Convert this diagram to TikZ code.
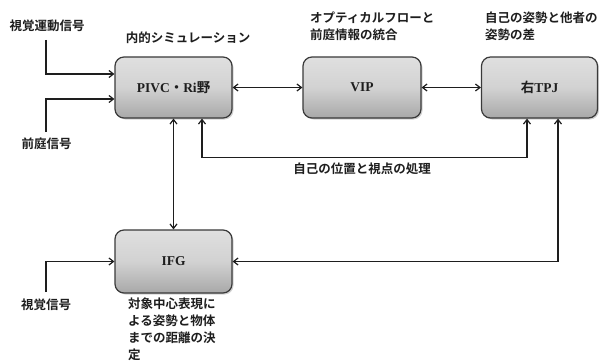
\documentclass[tikz,border=0pt]{standalone}
\usepackage{fontspec}
\usetikzlibrary{arrows.meta,shadows,calc}
\newfontfamily\jpb{Noto Sans CJK JP Bold}
\newfontfamily\serb{Liberation Serif Bold}
\definecolor{boxfill}{HTML}{D2D2D2}
\definecolor{boxline}{HTML}{3A3A3A}
\definecolor{ink}{HTML}{1E1E1E}
\begin{document}
\begin{tikzpicture}[x=1pt,y=-1pt,
  blk/.style={draw=boxline,line width=1.2pt,rounded corners=9pt,
    top color=boxfill!70!white,bottom color=boxfill!80!black,middle color=boxfill,
    drop shadow={shadow xshift=1.5pt,shadow yshift=-1.5pt,opacity=0.35},
    minimum width=117pt,minimum height=61pt,inner sep=0pt,
    font=\serb\fontsize{13.5}{15}\selectfont,text=ink},
  lbl/.style={font=\jpb\fontsize{12.5}{16.5}\selectfont,text=ink,inner sep=0pt,align=left},
  conn/.style={draw=ink,line width=1.2pt},
  arr/.style={conn,-{Straight Barb[length=4.5pt,width=7pt]}},
  darr/.style={conn,{Straight Barb[length=4.5pt,width=7pt]}-{Straight Barb[length=4.5pt,width=7pt]}}]
\useasboundingbox (0,0) rectangle (599,361);
\fill[white] (0,0) rectangle (599,361);
% boxes
\node[blk] (pivc) at (173.5,87.5) {PIVC{\jpb ・}Ri{\jpb 野}};
\node[blk,minimum width=118pt] (vip) at (362,87.5) {VIP};
\node[blk,minimum width=116pt] (tpj) at (539.5,87.5) {{\jpb 右}TPJ};
\node[blk,minimum height=63pt] (ifg) at (173.5,261.5) {IFG};
% labels
\node[lbl] (l1) at (47,26) {視覚運動信号};
\node[lbl] (l2) at (46.5,144) {前庭信号};
\node[lbl] (l3) at (46,305) {視覚信号};
\node[lbl] (l4) at (188,38) {内的シミュレーション};
\node[lbl,anchor=north west] (l5) at (310,12) {オプティカルフローと\\前庭情報の統合};
\node[lbl,anchor=north west] (l6) at (485,12) {自己の姿勢と他者の\\姿勢の差};
\node[lbl] (l7) at (362,169) {自己の位置と視点の処理};
\node[lbl,anchor=north west,font=\jpb\fontsize{12.5}{16.8}\selectfont] (l8) at (128,298) {対象中心表現に\\よる姿勢と物体\\までの距離の決\\定};
% endpoints
\coordinate (vm) at (46,40);
\coordinate (vs) at (46,132);
\coordinate (vv) at (46,292);
% connectors
\draw[arr] (vm) |- ([yshift=13.5pt]pivc.west);
\draw[arr] (vs) |- ([yshift=-11.5pt]pivc.west);
\draw[darr] (pivc.east) -- (vip.west);
\draw[darr] (vip.east) -- (tpj.west);
\draw[darr] ([xshift=28.5pt]pivc.south) -- ++(0,39) -| ([xshift=-12.5pt]tpj.south);
\draw[darr] (pivc.south) -- (ifg.north);
\draw[darr] ([xshift=18.5pt]tpj.south) |- (ifg.east);
\draw[arr] (vv) |- (ifg.west);
\end{tikzpicture}
\end{document}
